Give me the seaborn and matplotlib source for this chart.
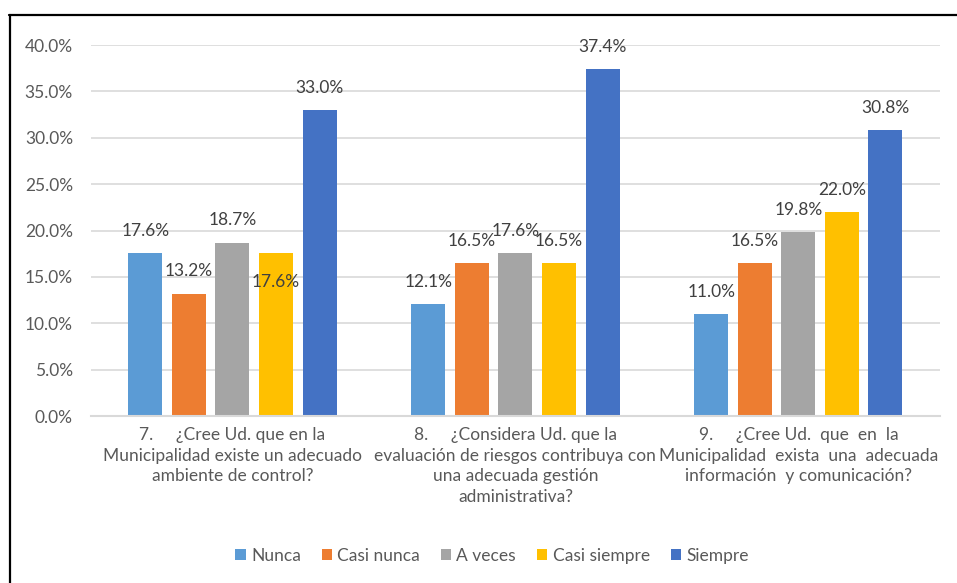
import matplotlib
matplotlib.use("Agg")
import matplotlib.pyplot as plt
from matplotlib.lines import Line2D
import seaborn as sns
import pandas as pd

# Datos
preguntas = [
    "7.     ¿Cree Ud. que en la\nMunicipalidad existe un adecuado\nambiente de control?",
    "8.     ¿Considera Ud. que la\nevaluación de riesgos contribuya con\nuna adecuada gestión\nadministrativa?",
    "9.     ¿Cree Ud.  que  en  la\nMunicipalidad  exista  una  adecuada\ninformación  y comunicación?",
]
respuestas = ["Nunca", "Casi nunca", "A veces", "Casi siempre", "Siempre"]
nunca = [17.6, 12.1, 11.0]
casi_nunca = [13.2, 16.5, 16.5]
a_veces = [18.7, 17.6, 19.8]
casi_siempre = [17.6, 16.5, 22.0]
siempre = [33.0, 37.4, 30.8]

colores = ["#5B9BD5", "#ED7D31", "#A5A5A5", "#FFC000", "#4472C4"]

series = [nunca, casi_nunca, a_veces, casi_siempre, siempre]
df = pd.DataFrame([
    {"pregunta": p, "respuesta": r, "valor": s[i]}
    for r, s in zip(respuestas, series)
    for i, p in enumerate(preguntas)
])

sns.set_theme(style="white")
plt.rcParams["font.family"] = ["Lato", "DejaVu Sans"]

fig = plt.figure(figsize=(9.57, 5.83), dpi=100)
ax = fig.add_axes([0.0951, 0.2864, 0.8869, 0.6364])

sns.barplot(data=df, x="pregunta", y="valor", hue="respuesta",
            hue_order=respuestas, palette=colores, width=0.77, gap=0.22,
            linewidth=0, saturation=1, ax=ax)

ax.set_ylim(0, 40)
ax.set_xlim(-0.5, 2.5)
ax.set_yticks(range(0, 41, 5))
ax.set_yticklabels([f"{v:.1f}%" for v in range(0, 41, 5)])
ax.yaxis.grid(True, color="#d9d9d9", linewidth=1.2)
ax.set_axisbelow(True)
for s in ["top", "right", "left"]:
    ax.spines[s].set_visible(False)
ax.spines["bottom"].set_color("#d9d9d9")
ax.spines["bottom"].set_linewidth(1.5)
ax.tick_params(axis="y", length=0, pad=13, labelsize=12.5, labelcolor="#595959")
ax.tick_params(axis="x", length=0, pad=8, labelsize=12.5, labelcolor="#595959")
ax.set_xticks(range(len(preguntas)))
ax.set_xticklabels(preguntas, linespacing=1.35)
ax.set_xlabel("")
ax.set_ylabel("")

# Etiquetas de datos
for j, cont in enumerate(ax.containers):
    for i, bar in enumerate(cont):
        h = bar.get_height()
        dy = 16
        if j == 3 and i == 0:
            dy = -21  # Excel la coloca dentro de la barra
        ax.annotate(f"{h:.1f}%", (bar.get_x() + bar.get_width() / 2, h),
                    xytext=(0, dy), textcoords="offset points",
                    ha="center", va="center", fontsize=12.5, color="#404040")

handles, labels = ax.get_legend_handles_labels()
ax.get_legend().remove()
fig.legend(handles, labels, loc="center", bbox_to_anchor=(492 / 957, 1 - 556 / 583),
           ncol=5, frameon=False, fontsize=12.5, handlelength=0.6,
           handleheight=0.6, handletextpad=0.3, columnspacing=1.2,
           labelcolor="#595959")

# Marco del gráfico
fig.add_artist(Line2D([9.5 / 957, 9.5 / 957], [0, 1 - 15 / 583],
                      color="black", linewidth=1.6, transform=fig.transFigure))
fig.add_artist(Line2D([9 / 957, 1], [1 - 15 / 583, 1 - 15 / 583],
                      color="black", linewidth=1.6, transform=fig.transFigure))

fig.savefig("out.png", dpi=100)
